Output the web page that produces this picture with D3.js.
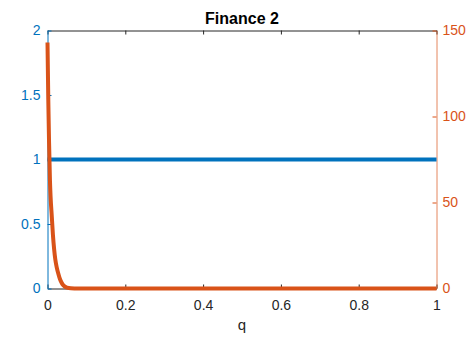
<!DOCTYPE html>
<html>
<head>
<meta charset="utf-8">
<script src="https://cdn.jsdelivr.net/npm/d3@7"></script>
<style>
  html, body { margin: 0; padding: 0; background: #fff; }
  svg { display: block; font-family: "Liberation Sans", Arial, Helvetica, sans-serif; }
</style>
</head>
<body>
<svg id="chart" width="470" height="337"></svg>
<script>
// Left-axis series (blue): constant level across q
const blueQ = [0, 1];
const blueValues = [1, 1];

// Right-axis series (orange): sharp decay near q = 0
const orangeQ = [0, 0.002, 0.004, 0.0064, 0.008, 0.011, 0.014, 0.017, 0.02, 0.024,
                 0.028, 0.032, 0.036, 0.04, 0.045, 0.05, 0.06, 0.08, 0.1, 0.2, 0.4, 0.6, 0.8, 1];
const orangeValues = [143, 110, 85, 62, 53, 42, 31, 23, 17, 12,
                      8.5, 5.5, 3.5, 2, 1, 0.5, 0.15, 0.02, 0, 0, 0, 0, 0, 0];

const xTicks = [0, 0.2, 0.4, 0.6, 0.8, 1];
const leftTicks = [0, 0.5, 1, 1.5, 2];
const rightTicks = [0, 50, 100, 150];

const titleText = "Finance 2";
const xLabel = "q";

const BLUE = "#0072BD";
const ORANGE = "#D95319";
const DARK = "#262626";
const FONT = "Liberation Sans, Arial, sans-serif";

const svg = d3.select("#chart");
const m = { left: 47.5, right: 436.5, top: 30.5, bottom: 288.5 };

const x = d3.scaleLinear().domain([0, 1]).range([m.left, m.right]);
const yL = d3.scaleLinear().domain([0, 2]).range([m.bottom, m.top]);
const yR = d3.scaleLinear().domain([0, 150]).range([m.bottom, m.top]);

const fmt = d => String(d);
const tickLen = 4;

// Bottom axis
const gx = svg.append("g").attr("transform", `translate(0,${m.bottom})`)
  .call(d3.axisBottom(x).tickValues(xTicks).tickFormat(fmt).tickSizeInner(-tickLen).tickSizeOuter(0).tickPadding(12));
gx.select(".domain").attr("stroke", DARK);
gx.selectAll(".tick line").attr("stroke", DARK);
gx.selectAll(".tick text").attr("fill", DARK).attr("font-size", 14).attr("font-family", FONT);

// Top axis (ticks only)
const gt = svg.append("g").attr("transform", `translate(0,${m.top})`)
  .call(d3.axisTop(x).tickValues(xTicks).tickFormat("").tickSizeInner(-tickLen).tickSizeOuter(0));
gt.select(".domain").attr("stroke", DARK);
gt.selectAll(".tick line").attr("stroke", DARK);

// Left axis
const gl = svg.append("g").attr("transform", `translate(${m.left},0)`)
  .call(d3.axisLeft(yL).tickValues(leftTicks).tickFormat(fmt).tickSizeInner(-tickLen).tickSizeOuter(0).tickPadding(7));
gl.select(".domain").attr("stroke", BLUE);
gl.selectAll(".tick line").attr("stroke", BLUE);
gl.selectAll(".tick text").attr("fill", BLUE).attr("font-size", 14).attr("font-family", FONT);

// Right axis
const gr = svg.append("g").attr("transform", `translate(${m.right},0)`)
  .call(d3.axisRight(yR).tickValues(rightTicks).tickFormat(fmt).tickSizeInner(-tickLen).tickSizeOuter(0).tickPadding(6));
gr.select(".domain").attr("stroke", ORANGE).attr("stroke-opacity", 0.7);
gr.selectAll(".tick line").attr("stroke", ORANGE);
gr.selectAll(".tick text").attr("fill", ORANGE).attr("font-size", 14).attr("font-family", FONT);

// Blue series
const blueLine = d3.line().x((d, i) => x(blueQ[i])).y(d => yL(d));
svg.append("path").datum(blueValues)
  .attr("d", blueLine).attr("fill", "none")
  .attr("stroke", BLUE).attr("stroke-width", 4);

// Orange series
const orangeLine = d3.line().x((d, i) => x(orangeQ[i])).y(d => yR(d)).curve(d3.curveMonotoneX);
svg.append("path").datum(orangeValues)
  .attr("d", orangeLine).attr("fill", "none")
  .attr("stroke", ORANGE).attr("stroke-width", 4).attr("stroke-linejoin", "round");

// Title
svg.append("text").attr("x", (m.left + m.right) / 2).attr("y", 24)
  .attr("text-anchor", "middle").attr("font-weight", "bold").attr("font-size", 16)
  .attr("fill", "#000").text(titleText);

// X label
svg.append("text").attr("x", (m.left + m.right) / 2).attr("y", 330)
  .attr("text-anchor", "middle").attr("font-size", 15)
  .attr("fill", DARK).text(xLabel);
</script>
</body>
</html>
